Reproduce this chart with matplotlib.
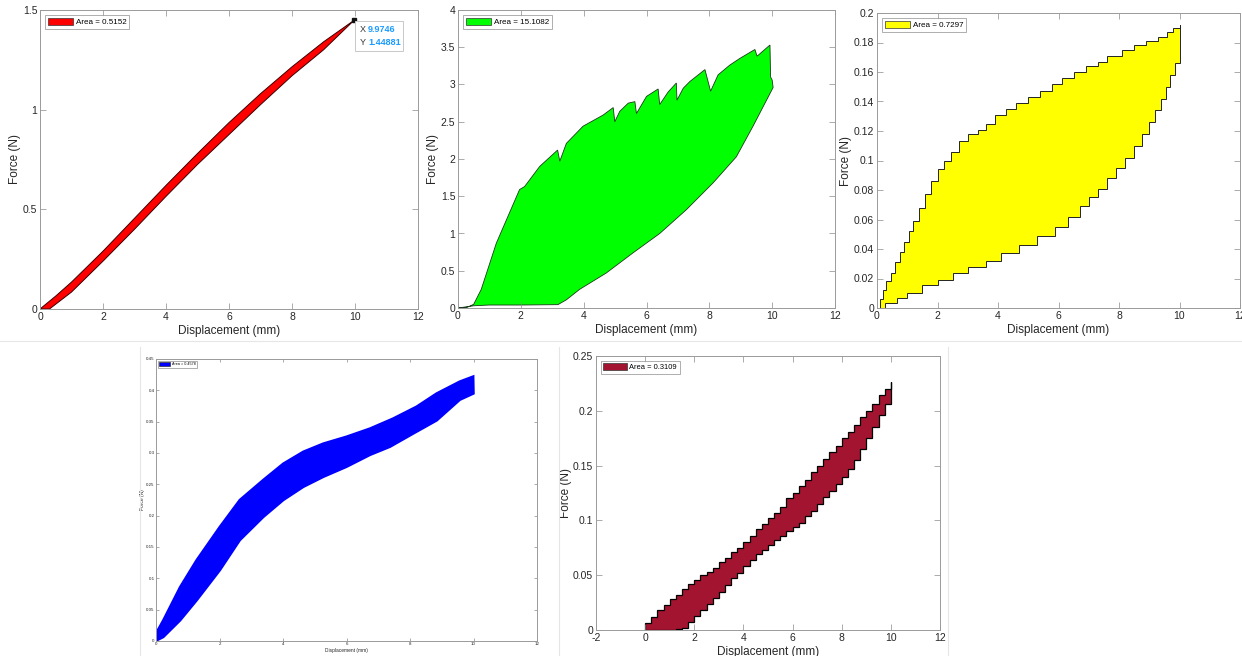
import numpy as np
import matplotlib
matplotlib.use("Agg")
import matplotlib.pyplot as plt
from matplotlib.patches import Patch, Rectangle
from matplotlib.lines import Line2D

plt.rcParams['font.family'] = ['Liberation Sans', 'DejaVu Sans']

# ---------------- data ----------------
# Sample A (red): loading / unloading
red_load_x = [0.0, 0.5, 1.0, 2.0, 3.0, 4.0, 5.0, 6.0, 7.0, 8.0, 9.0, 9.9746]
red_load_y = [0.0, 0.065, 0.135, 0.29, 0.455, 0.62, 0.78, 0.935, 1.08, 1.215, 1.34, 1.44881]
red_unload_x = [0.3, 1.0, 2.0, 3.0, 4.0, 5.0, 6.0, 7.0, 8.0, 9.0, 9.9746]
red_unload_y = [0.0, 0.085, 0.24, 0.40, 0.565, 0.725, 0.875, 1.025, 1.17, 1.30, 1.44881]
red_area = "Area = 0.5152"
red_tip = (9.9746, 1.44881)

# Sample B (green)
green_load_x = [0.0, 0.3, 0.5, 0.74, 1.22, 1.96, 2.12, 2.6, 3.17, 3.24, 3.45, 3.98, 4.62,
                4.94, 4.99, 5.15, 5.42, 5.63, 5.68, 6.0, 6.37, 6.42, 6.69, 6.95, 6.97,
                7.17, 7.38, 7.86, 8.04, 8.28, 8.65, 8.97, 9.45, 9.52, 9.93, 9.95, 10.0, 10.03]
green_load_y = [0.0, 0.01, 0.05, 0.25, 0.87, 1.59, 1.63, 1.9, 2.12, 1.97, 2.21, 2.44, 2.59,
                2.69, 2.50, 2.64, 2.75, 2.77, 2.61, 2.84, 2.94, 2.73, 2.90, 3.02, 2.79,
                2.95, 3.04, 3.20, 2.91, 3.13, 3.26, 3.35, 3.47, 3.38, 3.53, 3.10, 3.06, 2.96]
green_unload_x = [0.0, 0.5, 1.0, 2.0, 3.18, 3.45, 3.87, 4.72, 5.57, 6.42, 7.27, 8.12, 8.86, 9.39, 10.03]
green_unload_y = [0.0, 0.03, 0.04, 0.04, 0.045, 0.11, 0.25, 0.47, 0.74, 1.0, 1.32, 1.68, 2.03, 2.44, 2.96]
green_area = "Area = 15.1082"

# Sample C (yellow)
yellow_load_x = [0.0, 0.1, 0.2, 0.3, 0.45, 0.6, 0.75, 0.9, 1.05, 1.2, 1.4, 1.6, 1.8, 2.0,
                 2.2, 2.45, 2.7, 3.0, 3.35, 3.6, 3.9, 4.25, 4.6, 5.0, 5.4, 5.8, 6.1, 6.5,
                 6.9, 7.3, 7.6, 8.1, 8.5, 8.9, 9.3, 9.6, 9.8, 10.0]
yellow_load_y = [0.0, 0.006, 0.012, 0.018, 0.024, 0.031, 0.038, 0.045, 0.052, 0.059, 0.068,
                 0.077, 0.086, 0.094, 0.100, 0.106, 0.113, 0.118, 0.121, 0.125, 0.131,
                 0.135, 0.139, 0.143, 0.147, 0.152, 0.156, 0.160, 0.164, 0.167, 0.171,
                 0.175, 0.178, 0.181, 0.184, 0.187, 0.190, 0.192]
yellow_unload_x = [0.0, 0.25, 0.65, 1.0, 1.5, 2.0, 2.5, 3.0, 3.6, 4.1, 4.7, 5.3, 5.9, 6.3,
                   6.7, 7.0, 7.3, 7.6, 7.9, 8.2, 8.5, 8.75, 9.0, 9.2, 9.4, 9.55, 9.7, 9.85, 10.0]
yellow_unload_y = [0.0, 0.0035, 0.0068, 0.0105, 0.0155, 0.019, 0.024, 0.028, 0.032, 0.037,
                   0.043, 0.049, 0.055, 0.062, 0.069, 0.075, 0.081, 0.088, 0.095, 0.102,
                   0.110, 0.118, 0.126, 0.134, 0.142, 0.150, 0.158, 0.166, 0.175]
yellow_area = "Area = 0.7297"

# Sample D (blue)
blue_upper_x = [0.0, 0.23, 0.76, 1.28, 2.01, 2.64, 3.38, 4.01, 4.64, 5.27, 6.0, 6.74, 7.47, 8.21, 8.84, 9.57, 9.99]
blue_upper_y = [0.012, 0.033, 0.086, 0.129, 0.182, 0.225, 0.257, 0.283, 0.302, 0.315, 0.326, 0.339, 0.355, 0.374, 0.395, 0.414, 0.422]
blue_lower_x = [0.02, 0.23, 0.76, 1.28, 2.01, 2.64, 3.38, 4.01, 4.64, 5.27, 6.0, 6.74, 7.37, 8.1, 8.84, 9.57, 10.0]
blue_lower_y = [0.001, 0.0064, 0.033, 0.065, 0.113, 0.161, 0.198, 0.225, 0.246, 0.262, 0.278, 0.297, 0.31, 0.331, 0.352, 0.385, 0.395]
blue_area = "Area = 0.4578"

# Sample E (maroon)
maroon_load_x = [0.0, 0.0, 0.25, 0.5, 0.75, 1.0, 1.25, 1.5, 1.75, 2.0, 2.25, 2.5, 2.75, 3.0,
                 3.25, 3.5, 3.75, 4.0, 4.25, 4.5, 4.75, 5.0, 5.25, 5.5, 5.75, 6.0, 6.25,
                 6.5, 6.75, 7.0, 7.25, 7.5, 7.75, 8.0, 8.25, 8.5, 8.75, 9.0, 9.25, 9.5,
                 9.75, 10.0]
maroon_load_y = [0.0, 0.006, 0.012, 0.018, 0.023, 0.028, 0.032, 0.037, 0.042, 0.046, 0.050,
                 0.053, 0.057, 0.062, 0.066, 0.071, 0.075, 0.080, 0.086, 0.092, 0.097,
                 0.102, 0.107, 0.112, 0.120, 0.125, 0.131, 0.137, 0.144, 0.150, 0.156,
                 0.162, 0.168, 0.175, 0.181, 0.187, 0.194, 0.200, 0.206, 0.214, 0.220, 0.226]
maroon_unload_x = [0.0, 1.0, 1.25, 1.5, 1.75, 2.0, 2.25, 2.5, 2.75, 3.0, 3.25, 3.5, 3.75,
                   4.0, 4.25, 4.5, 4.75, 5.0, 5.25, 5.5, 5.75, 6.0, 6.25, 6.5, 6.75, 7.0,
                   7.25, 7.5, 7.75, 8.0, 8.25, 8.5, 8.75, 9.0, 9.25, 9.5, 9.75, 10.0]
maroon_unload_y = [0.0, 0.0, 0.0005, 0.0015, 0.007, 0.013, 0.018, 0.024, 0.029, 0.035, 0.041,
                   0.047, 0.052, 0.058, 0.064, 0.069, 0.073, 0.078, 0.082, 0.086, 0.090,
                   0.094, 0.098, 0.104, 0.109, 0.115, 0.121, 0.127, 0.133, 0.140, 0.147,
                   0.155, 0.165, 0.175, 0.185, 0.196, 0.206, 0.216]
maroon_area = "Area = 0.3109"

x_label = "Displacement (mm)"
y_label = "Force (N)"

# ---------------- helpers ----------------
W, H = 1242, 656
fig = plt.figure(figsize=(W / 100, H / 100), dpi=100)
fig.patch.set_facecolor("white")


def add_axes_px(left, top, right, bottom):
    return fig.add_axes([left / W, (H - bottom) / H, (right - left) / W, (bottom - top) / H])


def stairs(x, y):
    x = np.asarray(x, float)
    y = np.asarray(y, float)
    return np.repeat(x, 2)[1:], np.repeat(y, 2)[:-1]


def loop_polygon(lx, ly, ux, uy, stepped=False):
    if stepped:
        lx, ly = stairs(lx, ly)
        ux, uy = stairs(ux, uy)
    xs = np.concatenate([np.asarray(lx, float), np.asarray(ux, float)[::-1]])
    ys = np.concatenate([np.asarray(ly, float), np.asarray(uy, float)[::-1]])
    return xs, ys


def style_axes(ax, xlim, ylim, xticks, yticks, ytlabels=None, fs=7.5, lfs=8.5, small=False):
    ax.set_xlim(*xlim)
    ax.set_ylim(*ylim)
    ax.set_xticks(xticks)
    ax.set_yticks(yticks)
    ax.set_xticklabels([f"{t:g}" for t in xticks])
    ax.set_yticklabels(ytlabels if ytlabels else [f"{t:g}" for t in yticks])
    ax.tick_params(direction="in", top=True, right=True, length=2.5 if small else 4,
                   width=0.5, colors="#8a8a8a", labelcolor="#262626", labelsize=fs,
                   pad=1 if small else 2)
    for s in ax.spines.values():
        s.set_color("#9a9a9a")
        s.set_linewidth(0.7)
    ax.set_xlabel(x_label, fontsize=lfs, color="#262626", labelpad=1 if small else 2)
    ax.set_ylabel(y_label, fontsize=lfs, color="#262626", labelpad=0.5 if small else 1)


def add_legend(ax, color, text, fs=5.8, hl=3.2, pad=0.6):
    h = Patch(facecolor=color, edgecolor="#333333", linewidth=0.5)
    leg = ax.legend([h], [text], loc="upper left", fontsize=fs, frameon=True,
                    fancybox=False, handlelength=hl, handleheight=1.0,
                    borderpad=0.35, handletextpad=0.3, borderaxespad=pad)
    leg.get_frame().set_edgecolor("#8a8a8a")
    leg.get_frame().set_linewidth(0.6)


# ---------------- red panel ----------------
ax1 = add_axes_px(40, 10, 418, 309)
xs, ys = loop_polygon(red_unload_x, red_unload_y, red_load_x, red_load_y)
ax1.fill(xs, ys, facecolor="#ff0000", edgecolor="#3a0000", linewidth=0.7)
style_axes(ax1, (0, 12), (0, 1.5), range(0, 13, 2), [0, 0.5, 1, 1.5])
add_legend(ax1, "#ff0000", red_area)
ax1.plot([red_tip[0]], [red_tip[1]], marker="s", ms=2.5, color="#111111", zorder=5)
# datatip box
ax1.add_patch(Rectangle((10.0, 1.295), 1.52, 0.15, facecolor="white", edgecolor="#c8c8c8",
                        linewidth=0.7, zorder=6))
ax1.text(10.15, 1.40, "X", fontsize=6.5, color="#333333", va="center", zorder=7)
ax1.text(10.42, 1.40, f"{red_tip[0]:.4f}", fontsize=6.5, color="#1a9bff", va="center",
         fontweight="bold", zorder=7)
ax1.text(10.15, 1.335, "Y", fontsize=6.5, color="#333333", va="center", zorder=7)
ax1.text(10.42, 1.335, f"{red_tip[1]:.5f}", fontsize=6.5, color="#1a9bff", va="center",
         fontweight="bold", zorder=7)

# ---------------- green panel ----------------
ax2 = add_axes_px(458, 10, 835, 308)
xs, ys = loop_polygon(green_unload_x, green_unload_y, green_load_x, green_load_y)
ax2.fill(xs, ys, facecolor="#00ff00", edgecolor="#1a3a1a", linewidth=0.6)
style_axes(ax2, (0, 12), (0, 4), range(0, 13, 2), [0, 0.5, 1, 1.5, 2, 2.5, 3, 3.5, 4])
add_legend(ax2, "#00ff00", green_area)

# ---------------- yellow panel ----------------
ax3 = add_axes_px(877, 13, 1240, 308)
xs, ys = loop_polygon(yellow_unload_x, yellow_unload_y, yellow_load_x, yellow_load_y, stepped=True)
ax3.fill(xs, ys, facecolor="#ffff00", edgecolor="#222222", linewidth=0.7)
yt = [0, 0.02, 0.04, 0.06, 0.08, 0.1, 0.12, 0.14, 0.16, 0.18, 0.2]
style_axes(ax3, (0, 12), (0, 0.2), range(0, 13, 2), yt)
add_legend(ax3, "#ffff00", yellow_area)

# ---------------- blue panel ----------------
ax4 = add_axes_px(156, 359, 537, 641)
xs, ys = loop_polygon(blue_lower_x, blue_lower_y, blue_upper_x, blue_upper_y)
ax4.fill(xs, ys, facecolor="#0000ff", edgecolor="#0000ff", linewidth=1.8)
yt4 = [0, 0.05, 0.1, 0.15, 0.2, 0.25, 0.3, 0.35, 0.4, 0.45]
style_axes(ax4, (0, 12), (0, 0.45), range(0, 13, 2), yt4,
           ytlabels=["0", "0.05", "0.1", "0.15", "0.2", "0.25", "0.3", "0.35", "0.4", "0.45"],
           fs=3.2, lfs=3.5, small=True)
add_legend(ax4, "#0000ff", blue_area, fs=2.7, hl=3.0, pad=0.5)

# ---------------- maroon panel ----------------
ax5 = add_axes_px(596, 356, 940, 630)
xs, ys = loop_polygon(maroon_unload_x, maroon_unload_y, maroon_load_x, maroon_load_y, stepped=True)
ax5.fill(xs, ys, facecolor="#a2142f", edgecolor="#000000", linewidth=0.9)
style_axes(ax5, (-2, 12), (0, 0.25), range(-2, 13, 2), [0, 0.05, 0.1, 0.15, 0.2, 0.25])
add_legend(ax5, "#a2142f", maroon_area, fs=5.4, hl=3.2)

# ---------------- faint panel separators ----------------
sep = dict(color="#e6e6e6", linewidth=0.8, transform=fig.transFigure)
fig.add_artist(Line2D([0, 1], [(H - 341) / H] * 2, **sep))
for xp in (140, 559, 948):
    fig.add_artist(Line2D([xp / W] * 2, [0, (H - 347) / H], **sep))

fig.savefig("out.png", dpi=100, facecolor="white")
